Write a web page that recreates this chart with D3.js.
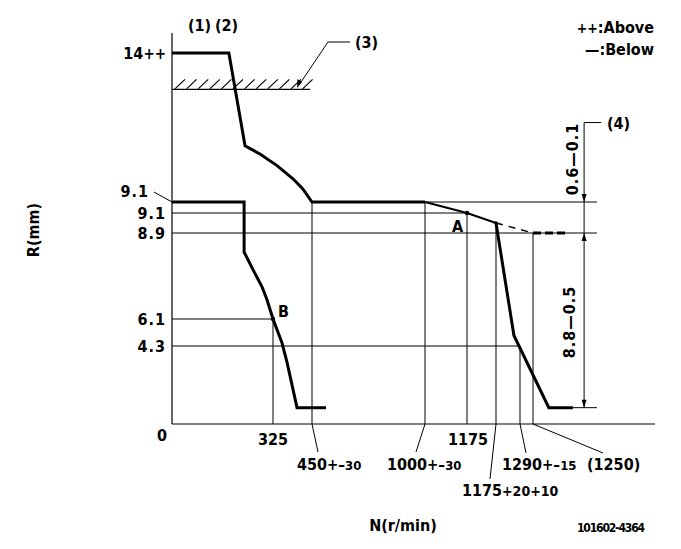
<!DOCTYPE html>
<html><head><meta charset="utf-8">
<script src="https://cdn.jsdelivr.net/npm/d3@7"></script>
<style>
body{margin:0;background:#fff}
svg{display:block}
text{font-family:"DejaVu Sans Condensed","DejaVu Sans",sans-serif;font-weight:bold;fill:#000}
</style>
</head><body>
<svg id="c" width="681" height="549"></svg>
<script>
// ---- schematic axis knots (the drawing is not to scale) ----
const rpmKnots = [0, 325, 450, 1000, 1175, 1195, 1290, 1330, 1700];
const rKnots   = [0, 4.3, 6.1, 8.9, 9.1, 9.5, 14, 14.6];

// ---- curves ----
const fullN  = [0, 183, 235, 283, 338, 389, 420, 450, 1000];
const fullR  = [14, 14, 11.2, 10.95, 10.6, 10.2, 9.9, 9.5, 9.5];
const droopN = [1000, 1175, 1195];
const droopR = [9.5, 9.1, 9.0];
const startN = [0, 232, 232, 261, 290, 306, 325, 354, 370, 402, 518];
const startR = [9.5, 9.5, 8.28, 7.7, 7.14, 6.72, 6.1, 4.5, 3.4, 0.9, 0.9];
const cutN   = [1195, 1266, 1378, 1451];
const cutR   = [9.0, 5.0, 0.9, 0.9];
const dashN  = [1195, 1330];
const dashR  = [9.0, 8.9];
const dash2N = [1330, 1433];
const dash2R = [8.9, 8.9];

// ---- guide lines ----
const vGuideN = [325, 450, 1000, 1175, 1195, 1290, 1330];
const vGuideR = [6.1, 9.5, 9.5, 9.1, 9.0, 4.3, 8.9];
const hGuideR  = [9.5, 9.1, 8.9, 6.1, 4.3, 0.9];
const hGuideN0 = [450, 0, 0, 0, 0, 1451];
const hGuideN1 = [1524, 1175, 1524, 325, 1290, 1524];

// ---- labels ----
const yTickR = [9.1, 8.9, 6.1, 4.3];
const yTickLabels = ["9.1", "8.9", "6.1", "4.3"];
const pointLabels = ["A", "B"];
const pointN = [1175, 325];
const pointR = [9.1, 6.1];
const hatchR = 12.9, hatchN1 = 444;
const dimN = 1485, dimTopR = 11.9;

const svg = d3.select("#c");
const x = d3.scaleLinear().domain(rpmKnots).range([172, 273, 312, 425, 467, 496, 520, 533, 655]);
const y = d3.scaleLinear().domain(rKnots).range([424, 346, 319, 233, 213, 202, 53, 33]);
const line = d3.line().x(d => x(d[0])).y(d => y(d[1]));
const zip = (a, b) => a.map((v, i) => [v, b[i]]);
const FS = 16;

const g = svg.append("g");

// axes
g.append("line").attr("x1", x(0)).attr("x2", x(0)).attr("y1", y(14.6)).attr("y2", y(0)).attr("stroke", "#000").attr("stroke-width", 1.2);
g.append("line").attr("x1", x(0)).attr("x2", x(1700)).attr("y1", y(0)).attr("y2", y(0)).attr("stroke", "#000").attr("stroke-width", 1.2);

// guides
vGuideN.forEach((n, i) => {
  g.append("line").attr("x1", x(n)).attr("x2", x(n)).attr("y1", y(vGuideR[i])).attr("y2", y(0)).attr("stroke", "#000").attr("stroke-width", 1);
});
hGuideR.forEach((r, i) => {
  g.append("line").attr("x1", x(hGuideN0[i])).attr("x2", x(hGuideN1[i])).attr("y1", y(r)).attr("y2", y(r)).attr("stroke", "#000").attr("stroke-width", 1);
});

// hatch (stop)
g.append("line").attr("x1", x(0)).attr("x2", x(hatchN1)).attr("y1", y(hatchR)).attr("y2", y(hatchR)).attr("stroke", "#000").attr("stroke-width", 1.2);
d3.range(0, 12).forEach(i => {
  const x0 = x(0) + 3 + i * 11.6;
  g.append("line").attr("x1", x0).attr("y1", y(hatchR) - 0.5).attr("x2", x0 + 10).attr("y2", y(hatchR) - 10).attr("stroke", "#000").attr("stroke-width", 1.2);
});

// curves
g.append("path").attr("d", line(zip(fullN, fullR))).attr("fill", "none").attr("stroke", "#000").attr("stroke-width", 3);
g.append("path").attr("d", line(zip(droopN, droopR))).attr("fill", "none").attr("stroke", "#000").attr("stroke-width", 2);
g.append("path").attr("d", line(zip(startN, startR))).attr("fill", "none").attr("stroke", "#000").attr("stroke-width", 3);
g.append("path").attr("d", line(zip(cutN, cutR))).attr("fill", "none").attr("stroke", "#000").attr("stroke-width", 3);
g.append("path").attr("d", line(zip(dashN, dashR))).attr("fill", "none").attr("stroke", "#000").attr("stroke-width", 1.5).attr("stroke-dasharray", "7,6");
g.append("path").attr("d", line(zip(dash2N, dash2R))).attr("fill", "none").attr("stroke", "#000").attr("stroke-width", 3).attr("stroke-dasharray", "8,4");

// points
pointN.forEach((n, i) => {
  g.append("circle").attr("cx", x(n)).attr("cy", y(pointR[i])).attr("r", 2.2).attr("fill", "#000");
});
g.append("text").attr("x", x(1175) - 15).attr("y", y(9.1) + 19).attr("font-size", FS).text(pointLabels[0]);
g.append("text").attr("x", x(325) + 5).attr("y", y(6.1) - 2).attr("font-size", FS).text(pointLabels[1]);
g.append("circle").attr("cx", x(1195)).attr("cy", y(9.0)).attr("r", 1.8).attr("fill", "#000");

// y tick labels
yTickR.forEach((r, i) => {
  g.append("text").attr("x", 166).attr("y", y(r) + 6).attr("text-anchor", "end").attr("font-size", FS).attr("letter-spacing", 1).text(yTickLabels[i]);
});
g.append("text").attr("x", 149).attr("y", y(9.5) - 5).attr("text-anchor", "end").attr("font-size", FS).attr("letter-spacing", 1).text("9.1");
g.append("line").attr("x1", 154).attr("y1", y(9.5) - 10).attr("x2", x(0)).attr("y2", y(9.5)).attr("stroke", "#000").attr("stroke-width", 1);
g.append("text").attr("x", 167).attr("y", y(0) + 17).attr("text-anchor", "end").attr("font-size", FS).text("0");
const t14 = g.append("text").attr("x", 166).attr("y", y(14) + 6).attr("text-anchor", "end").attr("font-size", FS);
t14.append("tspan").text("14");
t14.append("tspan").attr("font-size", 15).text("++");

// x labels
function pm(sel, main, sym, small) {
  sel.append("tspan").text(main);
  sel.append("tspan").attr("font-size", 15).text(sym);
  sel.append("tspan").attr("font-size", 13).text(small);
  return sel;
}
g.append("text").attr("x", x(325)).attr("y", 445).attr("text-anchor", "middle").attr("font-size", FS).text("325");
g.append("text").attr("x", x(1175) + 1).attr("y", 445).attr("text-anchor", "middle").attr("font-size", FS).text("1175");
pm(g.append("text").attr("x", 297).attr("y", 470).attr("font-size", FS), "450", "+\u2013", "30");
pm(g.append("text").attr("x", 387).attr("y", 470).attr("font-size", FS), "1000", "+\u2013", "30");
pm(g.append("text").attr("x", 502).attr("y", 470).attr("font-size", FS), "1290", "+\u2013", "15");
g.append("text").attr("x", 587).attr("y", 470).attr("font-size", FS).text("(1250)");
const t1175 = g.append("text").attr("x", 462).attr("y", 496).attr("font-size", FS);
t1175.append("tspan").text("1175");
t1175.append("tspan").attr("font-size", 14).text("+20+10");

// leaders from axis to labels
const leaders = [[450, 318, 452], [1000, 416, 452], [1195, 490, 479], [1290, 526, 453], [1330, 603, 453]];
leaders.forEach(d => {
  g.append("line").attr("x1", x(d[0])).attr("y1", y(0)).attr("x2", d[1]).attr("y2", d[2]).attr("stroke", "#000").attr("stroke-width", 1);
});

// dimension line (4)
g.append("line").attr("x1", x(dimN)).attr("x2", x(dimN)).attr("y1", y(dimTopR)).attr("y2", y(0.9)).attr("stroke", "#000").attr("stroke-width", 1);
g.append("line").attr("x1", x(dimN)).attr("x2", x(dimN) + 17).attr("y1", y(dimTopR)).attr("y2", y(dimTopR)).attr("stroke", "#000").attr("stroke-width", 1);
function arrow(px, py, dir) {
  g.append("path").attr("d", `M${px},${py} L${px - 2.5},${py - 8 * dir} L${px + 2.5},${py - 8 * dir} Z`).attr("fill", "#000");
}
arrow(x(dimN), y(9.5), 1);
arrow(x(dimN), y(8.9), -1);
arrow(x(dimN), y(0.9), 1);
g.append("text").attr("x", 607).attr("y", y(dimTopR) + 6).attr("font-size", FS).text("(4)");
g.append("text").attr("transform", `translate(${x(dimN) - 6},159) rotate(-90)`).attr("text-anchor", "middle").attr("font-size", FS).attr("letter-spacing", 1).text("0.6\u20140.1");
g.append("text").attr("transform", `translate(${x(dimN) - 9},322) rotate(-90)`).attr("text-anchor", "middle").attr("font-size", FS).attr("letter-spacing", 1).text("8.8\u20140.5");

// (3) leader
g.append("line").attr("x1", 328).attr("y1", 42).attr("x2", 350).attr("y2", 42).attr("stroke", "#000").attr("stroke-width", 1);
g.append("line").attr("x1", 328).attr("y1", 42).attr("x2", 299).attr("y2", 85).attr("stroke", "#000").attr("stroke-width", 1);
g.append("path").attr("d", "M297,88 L297.5,79 L302,82 Z").attr("fill", "#000");
g.append("text").attr("x", 355).attr("y", 48).attr("font-size", FS).text("(3)");

// top labels
g.append("text").attr("x", 188).attr("y", 31).attr("font-size", FS).text("(1)");
g.append("text").attr("x", 215).attr("y", 31).attr("font-size", FS).text("(2)");

// legend
const la = g.append("text").attr("x", 654).attr("y", 33).attr("text-anchor", "end").attr("font-size", FS);
la.append("tspan").attr("font-size", 14).text("++");
la.append("tspan").text(":Above");
g.append("text").attr("x", 654).attr("y", 55).attr("text-anchor", "end").attr("font-size", FS).text("\u2014:Below");

// axis titles
g.append("text").attr("transform", "translate(39,230) rotate(-90)").attr("text-anchor", "middle").attr("font-size", FS).text("R(mm)");
g.append("text").attr("x", 403).attr("y", 531).attr("text-anchor", "middle").attr("font-size", FS).text("N(r/min)");
g.append("text").attr("x", 577).attr("y", 532).attr("font-size", 12).attr("textLength", 68).text("101602-4364");
</script>
</body></html>
